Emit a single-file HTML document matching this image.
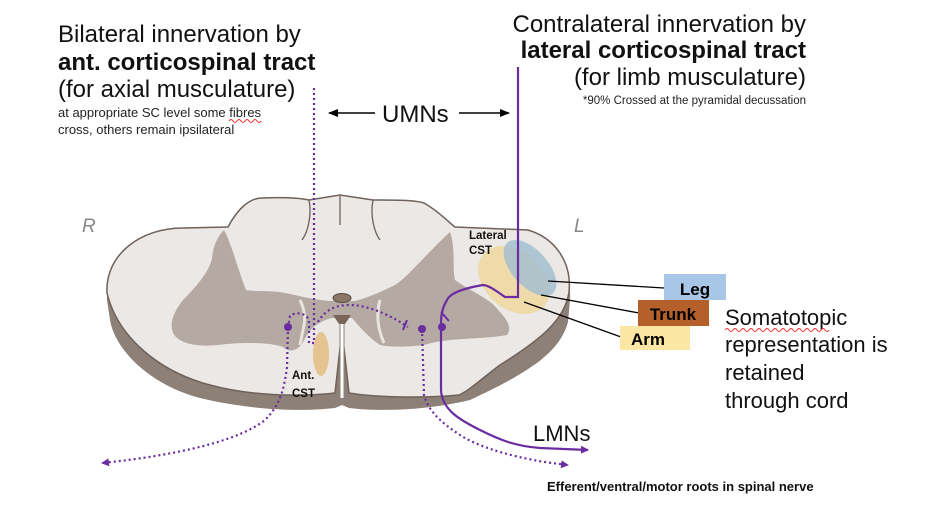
<!DOCTYPE html>
<html><head><meta charset="utf-8"><style>
html,body{margin:0;padding:0;background:#fff;}
svg{display:block;font-family:"Liberation Sans",sans-serif;}
</style></head><body>
<svg width="928" height="514" viewBox="0 0 928 514" xmlns="http://www.w3.org/2000/svg">
<defs>
<marker id="ap" markerWidth="8" markerHeight="8" refX="7" refY="4" orient="auto" markerUnits="userSpaceOnUse"><path d="M0,0 L8,4 L0,8 z" fill="#6a2ca0"/></marker>
<marker id="ak" markerWidth="10" markerHeight="8" refX="9" refY="4" orient="auto" markerUnits="userSpaceOnUse"><path d="M0,0 L10,4 L0,8 z" fill="#000"/></marker>
</defs>
<text x="58" y="42" font-size="24" fill="#111">Bilateral innervation by</text>
<text x="58" y="70" font-size="24" font-weight="bold" fill="#111">ant. corticospinal tract</text>
<text x="58" y="97" font-size="24" fill="#111">(for axial musculature)</text>
<text x="58" y="117" font-size="13" fill="#222">at appropriate SC level some fibres</text>
<path d="M229,121 q2,-3 4,0 t4,0 t4,0 t4,0 t4,0 t4,0 t4,0 t4,0" fill="none" stroke="#e33" stroke-width="1"/>
<text x="58" y="134" font-size="13" fill="#222">cross, others remain ipsilateral</text>
<text x="806" y="32" font-size="24" fill="#111" text-anchor="end">Contralateral innervation by</text>
<text x="806" y="58" font-size="24" font-weight="bold" fill="#111" text-anchor="end">lateral corticospinal tract</text>
<text x="806" y="85" font-size="24" fill="#111" text-anchor="end">(for limb musculature)</text>
<text x="806" y="104" font-size="11.5" fill="#222" text-anchor="end">*90% Crossed at the pyramidal decussation</text>
<text x="382" y="122" font-size="24" fill="#111">UMNs</text>
<line x1="375" y1="113" x2="329" y2="113" stroke="#000" stroke-width="1.5" marker-end="url(#ak)"/>
<line x1="459" y1="113" x2="509" y2="113" stroke="#000" stroke-width="1.5" marker-end="url(#ak)"/>
<text x="82" y="232" font-size="19" font-style="italic" fill="#888">R</text>
<text x="574" y="232" font-size="19" font-style="italic" fill="#888">L</text>
<path d="M107,300 C105,262 140,232 183,230 L228,229 C238,210 250,198 262,198 C285,197 300,198 309,200 L340,196 L373,200 C395,200 415,200 424,203 C440,212 448,222 455,229 L528,232 C555,240 572,268 570,300 L568,322 C560,352 530,372 470,400 C430,410 380,412 349,408 L342,405 L335,408 C300,412 250,410 200,398 C150,385 115,350 110,320 Z" fill="#8d8077"/>
<path d="M107,293 C105,255 140,228 183,228 L228,227 C238,208 250,198 262,198 C285,197 300,198 309,200 L340,195 L373,200 C395,200 415,200 424,203 C440,212 448,222 455,227 L528,230 C555,238 572,262 569,292 C565,320 540,340 500,365 C480,380 470,390 459,395 C430,398 380,398 349,393 L342,330 L335,393 C300,397 250,396 210,385 C160,372 118,338 107,293 Z" fill="#ebe8e5" stroke="#6e625b" stroke-width="1.5"/>
<path d="M309,200 C312,215 308,232 302,240 M373,200 C370,215 374,232 380,240 M340,196 L340,225" stroke="#6e625b" stroke-width="1.3" fill="none"/>
<path d="M224,230 C232,245 238,270 246,290 C257,292 272,290 285,293 C300,296 315,300 330,301 L355,301 C370,297 385,290 395,285 C410,275 425,255 450,232 C456,250 452,268 455,280 C472,292 492,300 498,310 C508,320 512,328 507,335 C480,340 450,337 424,345 C400,348 385,346 380,345 C368,337 358,325 352,318 L332,318 C315,322 308,332 302,344 C296,352 288,352 283,347 C270,342 240,342 218,345 C198,347 182,344 175,336 C167,325 175,310 183,300 C198,285 210,270 212,258 C213,248 216,238 224,230 Z" fill="#b4aaa3"/>
<path d="M300,300 C305,310 306,320 303,330 L300,345 M380,300 C376,315 378,330 384,343" stroke="#e8e4e0" stroke-width="3" fill="none"/>
<ellipse cx="342" cy="298" rx="9" ry="4.5" fill="#8a7766" stroke="#5a4a40"/>
<path d="M333,315 L351,315 L345,324 L339,324 Z" fill="#7a6658"/>
<path d="M342,324 L342,398" stroke="#fff" stroke-width="3"/>
<path d="M340,324 L340,398 M344,324 L344,398" stroke="#8d8077" stroke-width="1"/>
<ellipse cx="321" cy="354" rx="8" ry="22" fill="#e4bd82" opacity="0.85"/>
<ellipse cx="514" cy="280" rx="40" ry="29" transform="rotate(40 514 280)" fill="#f0d79a" opacity="0.8"/>
<ellipse cx="530" cy="268" rx="18" ry="34" transform="rotate(-42 530 268)" fill="#9fbdd0" opacity="0.8"/>
<text x="469" y="239" font-size="11.5" font-weight="bold" fill="#111">Lateral</text>
<text x="469" y="254" font-size="11.5" font-weight="bold" fill="#111">CST</text>
<text x="292" y="379" font-size="11.5" font-weight="bold" fill="#111">Ant.</text>
<text x="292" y="397" font-size="11.5" font-weight="bold" fill="#111">CST</text>
<line x1="548" y1="281" x2="664" y2="288" stroke="#000" stroke-width="1.3"/>
<line x1="541" y1="295" x2="639" y2="313" stroke="#000" stroke-width="1.3"/>
<line x1="524" y1="302" x2="621" y2="337" stroke="#000" stroke-width="1.3"/>
<rect x="664" y="274" width="62" height="26" fill="#a8c6e5"/>
<text x="695" y="295" font-size="17" font-weight="bold" text-anchor="middle" fill="#000">Leg</text>
<rect x="638" y="300" width="71" height="26" fill="#b5602b"/>
<text x="673" y="320" font-size="17" font-weight="bold" text-anchor="middle" fill="#000">Trunk</text>
<rect x="620" y="326" width="70" height="24" fill="#fbe6a3"/>
<text x="648" y="345" font-size="17" font-weight="bold" text-anchor="middle" fill="#000">Arm</text>
<text x="725" y="325" font-size="22" fill="#111">Somatotopic</text>
<path d="M725,330 q2,-3 4,0 t4,0 t4,0 t4,0 t4,0 t4,0 t4,0 t4,0 t4,0 t4,0 t4,0 t4,0 t4,0 t4,0 t4,0 t4,0 t4,0 t4,0 t4,0 t4,0 t4,0 t4,0 t4,0 t4,0 t4,0 t4,0" fill="none" stroke="#e33" stroke-width="1"/>
<text x="725" y="352" font-size="22" fill="#111">representation is</text>
<text x="725" y="380" font-size="22" fill="#111">retained</text>
<text x="725" y="408" font-size="22" fill="#111">through cord</text>
<path d="M518,67 L518,297 L505,297 C495,290 488,285 483,285 C465,288 450,293 447,300 C442,308 441,315 441,322 L441,390 C442,410 460,420 480,430 C500,440 515,446 540,448 L588,450" fill="none" stroke="#6a2ca0" stroke-width="2.2" marker-end="url(#ap)"/>
<line x1="441" y1="312" x2="449" y2="321" stroke="#6a2ca0" stroke-width="2"/>
<circle cx="442" cy="327" r="4" fill="#6a2ca0"/>
<g fill="none" stroke="#6a2ca0" stroke-width="2.2" stroke-dasharray="2 3">
<path d="M314,88 L314,343 L309,343 L309,320 C305,312 295,312 290,316 L288,327"/>
<path d="M288,327 L287,367 C284,390 280,405 265,420 C240,440 180,455 102,463" marker-end="url(#ap)"/>
<path d="M318,322 C325,310 335,305 350,305 C370,305 395,318 408,327"/>
<path d="M422,329 L424,395 C428,410 440,422 460,435 C480,448 520,460 568,465" marker-end="url(#ap)"/>
</g>
<line x1="403" y1="330" x2="407" y2="320" stroke="#6a2ca0" stroke-width="2"/>
<circle cx="288" cy="327" r="4" fill="#6a2ca0"/>
<circle cx="422" cy="329" r="4" fill="#6a2ca0"/>
<text x="533" y="441" font-size="22" fill="#111">LMNs</text>
<text x="547" y="491" font-size="13" font-weight="bold" fill="#111">Efferent/ventral/motor roots in spinal nerve</text>
</svg>
</body></html>
